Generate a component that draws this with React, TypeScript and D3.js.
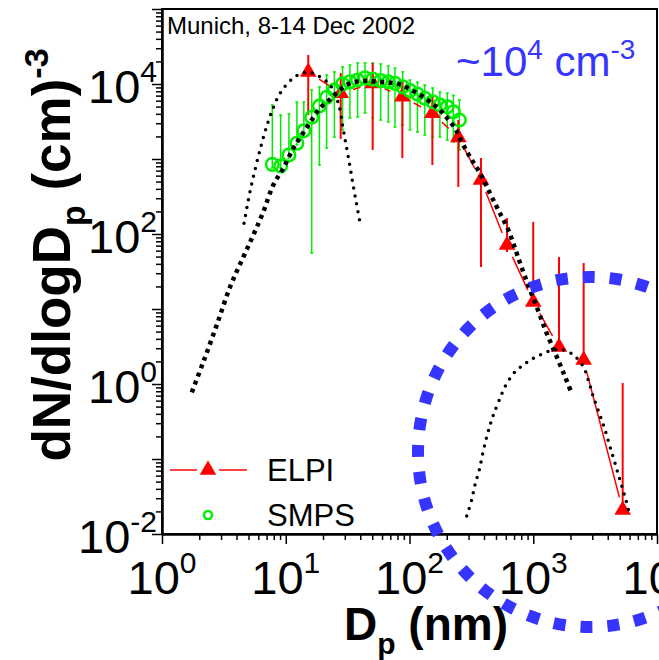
import React, { useEffect, useRef } from "react";
import { axisBottom, axisLeft, scaleLog, select, line, curveCatmullRom, symbol, symbolTriangle } from "d3";

// ELPI impactor (red triangles), D in nm, dN/dlogDp in cm^-3
const elpiD = [15.2, 27.8, 50.4, 87.5, 153, 248, 378, 614, 1000, 1615, 2555, 5280];
const elpiN = [14500, 7520, 10200, 6780, 4070, 1945, 525, 71.3, 12.4, 3.11, 2.09, 0.0209];
const elpiHi = [24400, 14000, 19100, 11300, 7080, 3310, 1030, 163, 145, 49.3, 41, 1.03];
const elpiLo = [3860, 1850, 1320, 1030, 832, 424, 36.3, 57.5, 11.3, 2.84, 1.96, 0.019];

// SMPS (green circles)
const smpsD = [7.79, 9.1, 10.6, 12.3, 14.0, 16.2, 18.7, 21.4, 24.7, 28.8, 33.0, 38.1, 43.7, 50.4, 58.5, 67.4, 76.3, 88.1, 101, 116, 133, 154, 176, 202, 226, 253];
const smpsN = [849, 807, 1130, 1620, 2380, 3600, 5090, 6650, 8320, 10000, 10700, 11300, 12100, 11600, 11100, 10700, 10200, 9200, 8150, 7360, 6450, 5810, 5250, 4980, 4270, 3310];
const smpsHi = [5250, 3860, 3980, 5750, 5750, 8320, 9120, 13200, 14500, 16900, 17900, 19100, 19100, 19100, 18500, 17400, 16300, 14500, 11300, 10600, 9700, 8850, 7820, 7570, 7080, 6120];
const smpsLo = [760, 760, 1030, 1540, 2290, 55.8, 832, 1400, 1960, 2440, 3520, 3630, 4100, 3520, 3310, 3110, 2670, 2840, 2440, 2290, 2090, 1960, 1960, 1790, 1690, 1320];

// fitted modes (dotted black)
const mode1D = [4.6, 5.14, 5.64, 6.19, 6.8, 7.7, 9.0, 11.2, 13.5, 15.7, 18.9, 22.8, 26.6, 29.2, 32.0, 35.6, 39.8];
const mode1N = [139, 366, 713, 1320, 2310, 4270, 7520, 11560, 13900, 14300, 12500, 9700, 5530, 2440, 1070, 386, 142];

const mode2D = [1.74, 2.16, 2.77, 3.54, 4.49, 5.47, 6.59, 7.93, 9.55, 11.5, 13.5, 16.2, 18.9, 22.8, 27.4, 33.0, 43.7, 56.0, 71.8, 86.5, 101, 122, 146, 176, 202, 233, 264, 308, 371, 447, 522, 629, 735, 857, 1066, 1285, 1548, 1807, 2046];
const mode2N = [0.774, 1.98, 6.12, 19.5, 47.4, 97, 198, 450, 752, 1390, 2090, 3310, 4740, 6250, 8320, 10200, 11000, 10700, 10400, 9700, 8490, 7130, 5810, 4500, 3490, 2570, 1690, 1070, 645, 349, 209, 113, 55.3, 27, 10.7, 4.74, 2.31, 1.25, 0.75];

const mode3D = [290, 318, 338, 366, 391, 421, 448, 476, 532, 591, 713, 832, 942, 1066, 1245, 1452, 1750, 2107, 2537, 2785, 3055, 3417, 3800, 4170, 4580, 5020, 5510, 5970];
const mode3N = [0.0174, 0.0284, 0.045, 0.0713, 0.119, 0.198, 0.284, 0.386, 0.612, 0.92, 1.46, 1.79, 2.09, 2.31, 2.61, 2.84, 2.84, 2.44, 1.7, 1.13, 0.678, 0.406, 0.244, 0.146, 0.0877, 0.0525, 0.0314, 0.0189];

const xTickExp = [0, 1, 2, 3, 4];
const yTickExp = [-2, 0, 2, 4];

const FONT = "'Liberation Sans', Arial, sans-serif";
const RED = "#ff0000";
const GREEN = "#00ee00";
const BLUE = "#3535ff";

const W = 659;
const H = 660;

export default function App() {
  const xAxisRef = useRef<SVGGElement>(null);
  const yAxisRef = useRef<SVGGElement>(null);

  const x = scaleLog().domain([1, 1e4]).range([162, 657]);
  const y = scaleLog().domain([1e-2, 1e5]).range([534, 9]);

  const minorX: number[] = [];
  for (let e = 0; e < 4; e++) for (let m = 2; m < 10; m++) minorX.push(m * Math.pow(10, e));
  const minorY: number[] = [];
  for (let e = -2; e < 5; e++) for (let m = 2; m < 10; m++) minorY.push(m * Math.pow(10, e));

  useEffect(() => {
    const gx = select(xAxisRef.current);
    gx.selectAll("*").remove();
    gx.append("g").call(axisBottom(x).tickValues(minorX).tickSize(6).tickFormat(() => "").tickSizeOuter(0));
    gx.append("g").call(axisBottom(x).tickValues(xTickExp.map((e) => Math.pow(10, e))).tickSize(10).tickFormat(() => "").tickSizeOuter(0));
    gx.selectAll("path").attr("stroke-width", 2);
    gx.selectAll("line").attr("stroke-width", 1.5);

    const gy = select(yAxisRef.current);
    gy.selectAll("*").remove();
    gy.append("g").call(axisLeft(y).tickValues(minorY).tickSize(6).tickFormat(() => "").tickSizeOuter(0));
    const majY: number[] = [];
    for (let e = -2; e <= 5; e++) majY.push(Math.pow(10, e));
    gy.append("g").call(axisLeft(y).tickValues(majY).tickSize(10).tickFormat(() => "").tickSizeOuter(0));
    gy.selectAll("path").attr("stroke-width", 2);
    gy.selectAll("line").attr("stroke-width", 1.5);
  }, []);

  const pts = (ds: number[], ns: number[]) => ds.map((d, i) => [x(d), y(ns[i])] as [number, number]);
  const curve = line().curve(curveCatmullRom);

  const elpiPts = pts(elpiD, elpiN);
  const gap = 13;
  const segs = elpiPts.slice(1).map((p1, i) => {
    const p0 = elpiPts[i];
    const dx = p1[0] - p0[0];
    const dy = p1[1] - p0[1];
    const len = Math.hypot(dx, dy);
    if (len <= 2 * gap) return null;
    const ux = dx / len;
    const uy = dy / len;
    return [p0[0] + ux * gap, p0[1] + uy * gap, p1[0] - ux * gap, p1[1] - uy * gap];
  });

  const tri = symbol().type(symbolTriangle).size(120)();

  return (
    <svg width={W} height={H} style={{ position: "absolute", left: 0, top: 0, background: "white" }} fontFamily={FONT}>
      <rect x={162} y={9} width={495} height={525} fill="none" stroke="black" strokeWidth={2} />
      <g ref={xAxisRef} transform="translate(0,534)" />
      <g ref={yAxisRef} transform="translate(162,0)" />

      {/* SMPS error bars */}
      {smpsD.map((d, i) => (
        <g key={"se" + i} stroke={GREEN} strokeWidth={1.5}>
          <line x1={x(d)} x2={x(d)} y1={y(smpsHi[i])} y2={y(smpsLo[i])} />
          <line x1={x(d) - 1.5} x2={x(d) + 1.5} y1={y(smpsHi[i])} y2={y(smpsHi[i])} />
          <line x1={x(d) - 1.5} x2={x(d) + 1.5} y1={y(smpsLo[i])} y2={y(smpsLo[i])} />
        </g>
      ))}

      {/* ELPI error bars */}
      {elpiD.map((d, i) => (
        <line key={"ee" + i} x1={x(d)} x2={x(d)} y1={y(elpiHi[i])} y2={y(elpiLo[i])} stroke={RED} strokeWidth={2} />
      ))}

      {/* ELPI line */}
      {segs.map((s, i) =>
        s ? <line key={"es" + i} x1={s[0]} y1={s[1]} x2={s[2]} y2={s[3]} stroke={RED} strokeWidth={1.5} /> : null
      )}

      {elpiPts.map((p, i) => (
        <path key={"et" + i} d={tri as string} transform={`translate(${p[0]},${p[1]})`} fill={RED} />
      ))}

      {pts(smpsD, smpsN).map((p, i) => (
        <circle key={"sc" + i} cx={p[0]} cy={p[1]} r={6.3} fill="none" stroke={GREEN} strokeWidth={2.5} />
      ))}

      {/* fitted modes */}
      <path d={curve(pts(mode1D, mode1N)) as string} fill="none" stroke="black" strokeWidth={3.5} strokeLinecap="round" strokeDasharray="0 8" />
      <path d={curve(pts(mode2D, mode2N)) as string} fill="none" stroke="black" strokeWidth={4.5} strokeLinecap="butt" strokeDasharray="4 4.5" />
      <path d={curve(pts(mode3D, mode3N)) as string} fill="none" stroke="black" strokeWidth={3.5} strokeLinecap="round" strokeDasharray="0 8" />

      {/* tick labels */}
      {xTickExp.map((e) => (
        <text key={"xl" + e} x={x(Math.pow(10, e))} y={594} textAnchor="middle" fontSize={47}>
          10<tspan dy={-21} fontSize={30}>{e}</tspan>
        </text>
      ))}
      {yTickExp.map((e) => (
        <text key={"yl" + e} x={157} y={y(Math.pow(10, e)) + 19} textAnchor="end" fontSize={47}>
          10<tspan dy={-21} fontSize={30}>{e}</tspan>
        </text>
      ))}

      {/* axis titles */}
      <text x={426} y={640} textAnchor="middle" fontSize={46} fontWeight="bold">
        D<tspan dy={14} fontSize={30}>p</tspan>
        <tspan dy={-14}> (nm)</tspan>
      </text>
      <text transform="translate(70,255) rotate(-90)" textAnchor="middle" fontSize={53} fontWeight="bold">
        dN/dlogD<tspan dy={15} fontSize={34}>p</tspan>
        <tspan dy={-15}> (cm)</tspan>
        <tspan dy={-22} fontSize={34}>-3</tspan>
      </text>

      <text x={167} y={34} fontSize={24}>Munich, 8-14 Dec 2002</text>

      <text x={456} y={76} fontSize={42} fill={BLUE}>
        ~10<tspan dy={-17} fontSize={28}>4</tspan>
        <tspan dy={17}> cm</tspan>
        <tspan dy={-17} fontSize={28}>-3</tspan>
      </text>

      {/* legend */}
      <line x1={170} x2={197} y1={470} y2={470} stroke={RED} strokeWidth={1.5} />
      <line x1={219} x2={247} y1={470} y2={470} stroke={RED} strokeWidth={1.5} />
      <path d={tri as string} transform="translate(208,470)" fill={RED} />
      <text x={267} y={481} fontSize={31}>ELPI</text>
      <circle cx={208} cy={515} r={4} fill="none" stroke={GREEN} strokeWidth={2.5} />
      <text x={267} y={526} fontSize={31}>SMPS</text>

      <ellipse cx={590} cy={452} rx={172} ry={175} fill="none" stroke={BLUE} strokeWidth={12} strokeDasharray="12 15" />
    </svg>
  );
}
